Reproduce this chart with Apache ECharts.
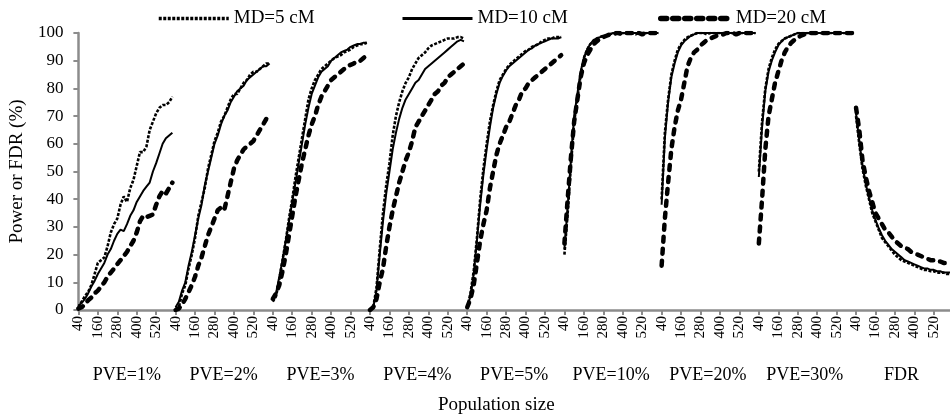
<!DOCTYPE html>
<html>
<head>
<meta charset="utf-8">
<script src="https://cdn.jsdelivr.net/npm/echarts@6/dist/echarts.min.js"></script>
<style>
html,body{margin:0;padding:0;background:#fff;}
#chart{width:950px;height:419px;}
</style>
</head>
<body>
<div id="chart"></div>
<script>
// Population sizes within each panel (category labels)
const popSizes = [40,60,80,100,120,140,160,180,200,220,240,260,280,300,320,340,360,380,400,420,440,460,480,500,520,540,560,580,600,620];
// Panel (group) labels
const panels = ['PVE=1%','PVE=2%','PVE=3%','PVE=4%','PVE=5%','PVE=10%','PVE=20%','PVE=30%','FDR'];
// Series names
const seriesNames = ['MD=5 cM','MD=10 cM','MD=20 cM'];

// MD = 5 cM, one list per panel
const md5 = [
  [1,3,5,6.5,9,13,17,18,19,23,28,31,33,38,41,39,44,47,52,57,57,59,65,68,71,73,74,74,75,77],
  [0.5,1,6,9,15,20,26,34,39,44,51,56,61,64,68,70,73,76,78,78,80,82,83,85,86,86,87,88,89,89],
  [3,5,11,18,25,33,40,48,55,62,69,76,80,83,85,87,88,89,90,91,91.5,92,93,93.5,94,95,95.5,96,96,96.5],
  [0,1,8,22,35,45,53,63,70,75,79,82,84,87,89,91,92,93,94.5,95.5,96,96.5,97,97.5,98,98,98,98.5,98.5,98],
  [1,6,14,26,40,51,60,68,74,79,83,85,87,88.5,89.5,90.5,91.5,92.5,93.5,94,95,95.5,96,97,97.5,98,98,98.5,98.5,98.5],
  [20,35,52,68,76,85,91,94,96,97,98,98.5,99,99,99.5,100,100,99.5,100,100,100,100,99.5,100,100,100,100,100,100,100],
  [40,64,76,85,90,94,96,97.5,98.5,99,99.5,100,100,100,99.5,100,100,100,100,100,100,100,100,100,100,100,100,100,100,100],
  [50,68,80,87,91,94,96,97,98,98.5,99,99.5,100,100,100,100,100,100,100,100,100,100,100,100,100,100,100,100,100,100],
  [70,60,51,45,40,35,32,29,26,24.5,23,21.5,20,19,18,17.5,17,16.5,16,15.5,15,14.5,14.5,14,14,13.5,13.5,13.5,13,13]
];
// MD = 10 cM
const md10 = [
  [1.5,2.5,4,6,8.5,10.5,13,15,17,20,22,25,27.5,29,28.5,31,34,36,39,41,43,44.5,46,50,53,56.5,60,62,63,64],
  [1,3,7,10,16,21,27,33,38,45,50,55,60,63,67,70,72,75,77,79,80,81,83,84,85,86,87,88,88,89],
  [4,6,12,18,25,32,39,46,53,60,67,73,78,81,84,86,87,88,90,91,92,93,93.5,94,95,95.5,96,96,96.5,96.5],
  [0,1,7,20,32,42,50,58,64,69,73,76,78,80,82,83,85,87,88,89,90,91,92,93,94,95,96,97,97.5,97],
  [1,5,13,25,38,49,58,66,73,78,82,84.5,86.5,88,89,90,91,92,93,94,94.5,95.5,96,96.5,97,97.5,98,98,98,98.5],
  [22,37,54,70,78,86,91,94,96,97.5,98,98.5,99,99,99.5,100,100,100,100,100,100,100,100,100,100,100,100,100,100,100],
  [38,62,75,84,89,93,95.5,97,98,99,99.5,100,100,100,100,100,100,100,100,100,100,100,100,100,100,100,100,100,100,100],
  [48,66,79,86,90,93,95.5,97,98,98.5,99,99.5,100,100,100,100,100,100,100,100,100,100,100,100,100,100,100,100,100,100],
  [71,61,52,45.5,40.5,36,32.5,29.5,27,25,23.5,22,21,20,19,18,17.5,17,16.5,16,15.5,15,15,14.5,14.5,14,14,13.5,13.5,13.5]
];
// MD = 20 cM
const md20 = [
  [0.5,1,2,3.5,4.5,6,7,8.5,10,12,13.5,15,16.5,18,19.5,21,23,25,28,32,34,33.5,34,34.5,38,41,43,42,44,46],
  [0,0.5,2,4,6.5,9,12,16,19,23,27,30,33,36,37,36,41,46,51,54,56,58,59,60,61,63,65,67,69,71],
  [4,6,9,14,20,27,34,41,47,53,58,63,67,70,74,77,79,81,83,84,85,86,87,88,88.5,89,90,90,91,92],
  [0,1,4,10,15,23,30,36,41,46,50,54,57,61,66,68,70,72,74,76,78,79,81,82,84,85,86,87,88,89],
  [1,4,9,17,25,31,36,44,50,56,60,63,66,68,71,74,76,79,80,82,83,84,85,86,87,88,89,90,91,92],
  [24,40,55,68,76,84,89,92,94,96,97,98,98.5,99,99.5,99.5,100,100,99.5,100,100,100,100,100,99.5,100,100,100,100,100],
  [16,33,46,58,66,72,76,82,88,91,93,94,95.5,96.5,97.5,98,98.5,99,99,99.5,100,100,100,99.5,100,100,100,100,100,100],
  [24,40,58,70,76,82,86,90,93,95,96.5,97.5,98.5,99,99.5,100,100,100,100,100,100,100,100,100,100,100,100,100,100,100],
  [73,65,54,48,43,39,35,33,31,29,28,26.5,25,24,23,22.5,22,21,20.5,20,19.5,19,18.5,18,18,17.5,17.5,17,17,16.5]
];

const FONT = '"Liberation Serif","Times New Roman",serif';
const AXIS_GREY = '#8c8c8c';

const nPer = popSizes.length;
const xCats = [];
panels.forEach((p, i) => popSizes.forEach(s => xCats.push(i + '_' + s)));

const styles = [
  {width: 2.6, type: [3, 1.6], cap: 'butt'},
  {width: 2, type: 'solid', cap: 'butt'},
  {width: 4.5, type: [5, 7], cap: 'round'}
];
const legendStyles = [
  {width: 3.5, type: [3, 1.5], cap: 'butt', color: '#000'},
  {width: 3, type: 'solid', cap: 'butt', color: '#000'},
  {width: 5.5, type: [6, 6], cap: 'round', color: '#000'}
];
const allData = [md5, md10, md20];

const series = [];
allData.forEach((arr, k) => {
  arr.forEach((vals, i) => {
    series.push({
      name: seriesNames[k],
      type: 'line',
      xAxisIndex: 0,
      yAxisIndex: 0,
      showSymbol: false,
      symbol: 'none',
      silent: true,
      data: vals.map((v, j) => [i * nPer + j, v]),
      lineStyle: Object.assign({color: '#000'}, styles[k]),
      itemStyle: {color: '#000'}
    });
  });
});

const legendLeft = [152, 396, 653];
const legends = seriesNames.map((n, k) => ({
  data: [n],
  left: legendLeft[k], top: 4,
  itemWidth: 70, itemHeight: 14,
  itemStyle: {opacity: 0},
  lineStyle: legendStyles[k],
  textStyle: {fontFamily: FONT, fontSize: 19, color: '#000'}
}));

const chart = echarts.init(document.getElementById('chart'), null, {renderer: 'canvas'});
chart.setOption({
  animation: false,
  backgroundColor: '#fff',
  title: {
    text: 'Population size',
    left: 433, top: 391,
    textStyle: {fontFamily: FONT, fontSize: 19, fontWeight: 'normal', color: '#000'}
  },
  legend: legends,
  grid: {left: 75, right: -5, top: 33, bottom: 109, containLabel: false},
  xAxis: [
    {
      type: 'category',
      data: xCats,
      boundaryGap: false,
      axisLine: {lineStyle: {color: AXIS_GREY, width: 2.5}},
      axisTick: {show: true, interval: 5, length: 5, inside: false, lineStyle: {color: AXIS_GREY, width: 2}},
      axisLabel: {
        interval: 5, rotate: 90, margin: 6,
        fontFamily: FONT, fontSize: 15, color: '#000',
        formatter: v => v.split('_')[1]
      },
      splitLine: {show: false}
    },
    {
      type: 'category',
      data: panels,
      position: 'bottom',
      offset: 48,
      boundaryGap: true,
      axisLine: {show: false},
      axisTick: {show: false},
      axisLabel: {interval: 0, margin: 8, fontFamily: FONT, fontSize: 18, color: '#000'},
      splitLine: {show: false}
    }
  ],
  yAxis: {
    type: 'value',
    min: 0, max: 100, interval: 10,
    name: 'Power or FDR (%)',
    nameLocation: 'middle',
    nameGap: 46,
    nameTextStyle: {fontFamily: FONT, fontSize: 19, color: '#000'},
    axisLine: {show: true, lineStyle: {color: AXIS_GREY, width: 2.5}},
    axisTick: {show: true, length: 5, lineStyle: {color: AXIS_GREY, width: 2}},
    axisLabel: {margin: 15, fontFamily: FONT, fontSize: 17, color: '#000'},
    splitLine: {show: false}
  },
  series: series
});
</script>
</body>
</html>
